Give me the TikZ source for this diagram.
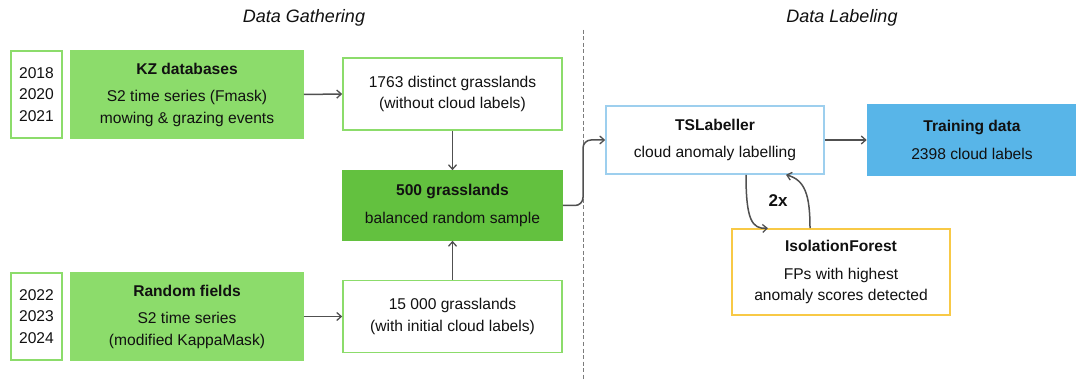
\documentclass[tikz,border=0pt]{standalone}
\usepackage{fontspec}
\setmainfont{Liberation Sans}
\usetikzlibrary{arrows.meta}
\definecolor{lgreen}{HTML}{8CDC6B}
\definecolor{dgreen}{HTML}{63C13F}
\definecolor{lblue}{HTML}{9DCFEE}
\definecolor{dblue}{HTML}{58B5E8}
\definecolor{lyellow}{HTML}{F8C946}
\definecolor{arrowgray}{HTML}{505050}
\definecolor{txt}{HTML}{111111}
\tikzset{
  box/.style={rectangle, line width=1.6pt, inner sep=0pt, align=center,
    font=\fontsize{15.6}{21.5}\selectfont, text=txt},
  yearbox/.style={box, draw=lgreen, fill=white, minimum width=51pt, minimum height=87pt},
  srcbox/.style={box, draw=lgreen, fill=lgreen, minimum width=232pt, minimum height=87pt},
  gbox/.style={box, draw=lgreen, fill=white, minimum width=219pt, minimum height=72pt},
  sbox/.style={box, draw=dgreen, fill=dgreen, minimum width=219pt, minimum height=69pt},
  tbox/.style={box, draw=lblue, fill=white, minimum width=218pt, minimum height=68pt},
  trbox/.style={box, draw=dblue, fill=dblue, minimum width=209pt, minimum height=70pt},
  ifbox/.style={box, draw=lyellow, fill=white, minimum width=218pt, minimum height=86pt},
  conn/.style={draw=arrowgray, line width=1.5pt, -{Straight Barb[length=4.5pt,width=8pt,line width=1.3pt]}},
  title/.style={font=\fontsize{18}{21}\selectfont\itshape, text=txt},
}
\begin{document}
\begin{tikzpicture}[x=1pt,y=-1pt]
\useasboundingbox (0,0) rectangle (1076,379);
\fill[white] (0,0) rectangle (1076,379);

\node[title] (tg) at (304,18) {Data Gathering};
\node[title] (tl) at (842,18) {Data Labeling};

\coordinate (dtop) at (583,30);
\coordinate (dbot) at (583,379);
\draw[arrowgray!75, line width=0.9pt, dash pattern=on 4pt off 2.5pt] (dtop) -- (dbot);

\node[yearbox] (y1) at (36.5,94.5) {2018\\2020\\2021};
\node[srcbox] (kz) at (187,94.5) {\textbf{KZ databases}\\[6pt]S2 time series (Fmask)\\mowing \& grazing events};

\node[yearbox] (y2) at (36.5,316.5) {2022\\2023\\2024};
\node[srcbox] (rf) at (187,316.5) {\textbf{Random fields}\\[6pt]S2 time series\\(modified KappaMask)};

\node[gbox] (g1) at (452.5,94) {1763 distinct grasslands\\(without cloud labels)};
\node[sbox] (s) at (452.5,205.5) {\textbf{500 grasslands}\\[6pt]balanced random sample};
\node[gbox] (g2) at (452.5,316.5) {15 000 grasslands\\(with initial cloud labels)};

\node[tbox] (ts) at (715,140) {\textbf{TSLabeller}\\[6pt]cloud anomaly labelling};
\node[trbox] (tr) at (972,140) {\textbf{Training data}\\[6pt]2398 cloud labels};
\node[ifbox] (if) at (841,272) {\textbf{IsolationForest}\\[6pt]FPs with highest\\anomaly scores detected};

\node[font=\fontsize{17}{20}\selectfont\bfseries, text=txt] (x2) at (778,201) {2x};

\draw[conn] (kz.east) -- (g1.west);
\draw[conn] (rf.east) -- (g2.west);
\draw[conn] (g1.south) -- (s.north);
\draw[conn] (g2.north) -- (s.south);
\draw[conn, rounded corners=8pt] (s.east) -- (583,205.5) -- (583,140) -- (ts.west);
\draw[conn] (ts.east) -- (tr.west);
\draw[conn] (ts.south -| 746,0) .. controls (746,220) and (752,229) .. (if.north -| 768,0);
\draw[conn] (if.north -| 810,0) .. controls (810,195) and (805,180) .. (ts.south -| 786,0);
\end{tikzpicture}
\end{document}
